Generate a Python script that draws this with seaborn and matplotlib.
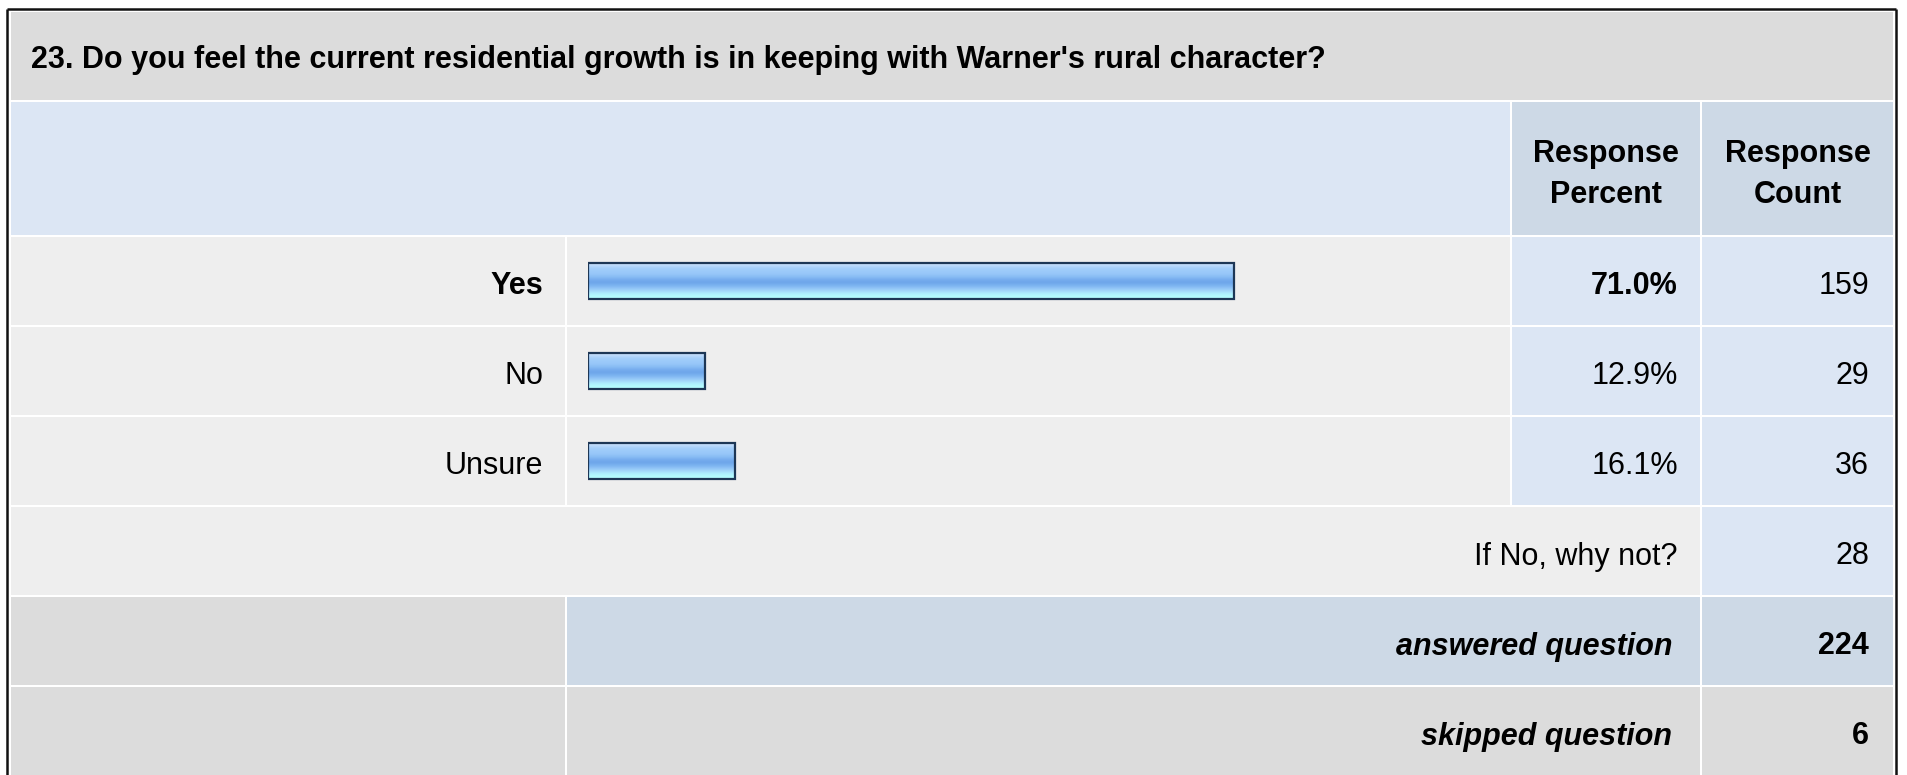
import numpy as np
import pandas as pd
import matplotlib
matplotlib.use("Agg")
import matplotlib.pyplot as plt
from matplotlib.patches import Rectangle
from matplotlib.colors import LinearSegmentedColormap
import seaborn as sns

# ---- survey data ----
question = "23. Do you feel the current residential growth is in keeping with Warner's rural character?"
answers = ["Yes", "No", "Unsure"]
percents = [71.0, 12.9, 16.1]
counts = [159, 29, 36]
other_label = "If No, why not?"
other_count = 28
answered_label = "answered question"
answered_count = 224
skipped_label = "skipped question"
skipped_count = 6
header_percent = "Response\nPercent"
header_count = "Response\nCount"

sns.set_theme(style="white")
plt.rcParams["font.family"] = ["Liberation Sans", "DejaVu Sans"]
plt.rcParams["text.color"] = "black"

W, H = 1907, 775
DPI = 100
FS = 22

fig = plt.figure(figsize=(W / DPI, H / DPI), dpi=DPI)
fig.patch.set_facecolor("white")

# table canvas in pixel coordinates
bg = fig.add_axes([0, 0, 1, 1])
bg.set_xlim(0, W)
bg.set_ylim(H, 0)
bg.axis("off")

GRAY = "#dcdcdc"
LIGHT = "#eeeeee"
BLUE = "#dce6f4"
BLUE2 = "#cdd9e6"

# column edges: label | bar | percent | count
C0, C1 = 11, 565
C2, C3 = 567, 1510
C4, C5 = 1512, 1700
C6, C7 = 1702, 1893

# row edges
title_r = (12, 100)
head_r = (102, 235)
data_r = [(237, 325), (327, 415), (417, 505)]
other_r = (507, 595)
ans_r = (597, 685)
skip_r = (687, 775)


def cell(x0, x1, r, color):
    bg.add_patch(Rectangle((x0, r[0]), x1 - x0, r[1] - r[0],
                           facecolor=color, edgecolor="none", zorder=1))


def mid(r):
    return (r[0] + r[1]) / 2


cell(C0, C7, title_r, GRAY)
cell(C0, C3, head_r, BLUE)
cell(C4, C5, head_r, BLUE2)
cell(C6, C7, head_r, BLUE2)
for r in data_r:
    cell(C0, C1, r, LIGHT)
    cell(C2, C3, r, LIGHT)
    cell(C4, C5, r, BLUE)
    cell(C6, C7, r, BLUE)
cell(C0, C5, other_r, LIGHT)
cell(C6, C7, other_r, BLUE)
cell(C0, C1, ans_r, GRAY)
cell(C2, C5, ans_r, BLUE2)
cell(C6, C7, ans_r, BLUE2)
cell(C0, C1, skip_r, GRAY)
cell(C2, C5, skip_r, GRAY)
cell(C6, C7, skip_r, GRAY)

# outer frame
frame = dict(color="#111111", lw=1.8, zorder=3, solid_capstyle="butt")
bg.plot([7, 7], [9, H], **frame)
bg.plot([7, 1896], [9, 9], **frame)
bg.plot([1896, 1896], [9, H], **frame)

# texts
bg.text(31, mid(title_r) + 12, question, fontsize=FS, fontweight="bold",
        ha="left", va="baseline", zorder=4)
bg.text((C4 + C5) / 2, mid(head_r) + 6, header_percent, fontsize=FS, fontweight="bold",
        ha="center", va="center", linespacing=1.5, zorder=4)
bg.text((C6 + C7) / 2, mid(head_r) + 6, header_count, fontsize=FS, fontweight="bold",
        ha="center", va="center", linespacing=1.5, zorder=4)

top_idx = int(np.argmax(percents))
for i, (lab, p, c, r) in enumerate(zip(answers, percents, counts, data_r)):
    w = "bold" if i == top_idx else "normal"
    base = mid(r) + 13.5
    bg.text(C1 - 22, base, lab, fontsize=FS, fontweight=w, ha="right", va="baseline", zorder=4)
    bg.text(C5 - 22, base, f"{p:.1f}%", fontsize=FS, fontweight=w, ha="right", va="baseline", zorder=4)
    bg.text(C7 - 24, base, f"{c}", fontsize=FS, ha="right", va="baseline", zorder=4)

base = mid(other_r) + 13.5
bg.text(C5 - 22, base, other_label, fontsize=FS, ha="right", va="baseline", zorder=4)
bg.text(C7 - 24, base, f"{other_count}", fontsize=FS, ha="right", va="baseline", zorder=4)

base = mid(ans_r) + 13.5
bg.text(C5 - 28, base, answered_label, fontsize=FS, fontweight="bold", style="italic",
        ha="right", va="baseline", zorder=4)
bg.text(C7 - 24, base, f"{answered_count}", fontsize=FS, fontweight="bold",
        ha="right", va="baseline", zorder=4)

base = mid(skip_r) + 13.5
bg.text(C5 - 28, base, skipped_label, fontsize=FS, fontweight="bold", style="italic",
        ha="right", va="baseline", zorder=4)
bg.text(C7 - 24, base, f"{skipped_count}", fontsize=FS, fontweight="bold",
        ha="right", va="baseline", zorder=4)

# ---- bar column ----
bx0, bx1 = 588, 1498
by0, by1 = 236, 506
bar_ax = fig.add_axes([bx0 / W, 1 - by1 / H, (bx1 - bx0) / W, (by1 - by0) / H])
bar_ax.patch.set_alpha(0)

df = pd.DataFrame({"answer": answers, "percent": percents})
sns.barplot(data=df, x="percent", y="answer", orient="h", ax=bar_ax,
            width=0.4, color="#8cc0f6", edgecolor="#1d3756", linewidth=1.6,
            saturation=1)
bar_ax.set_xlim(0, 100)
bar_ax.set_ylim(2.5, -0.5)
bar_ax.axis("off")

# glossy vertical gradient inside each bar
stripe_colors = ["#d2e6fc", "#b8d8fc", "#a2cefa", "#9ccafa", "#96c6f8", "#88bcf4",
                 "#76acee", "#6ea6ea", "#7ab2f0", "#8ec2f6", "#a2d6fa",
                 "#aeeefe", "#b4fcff", "#b4fcff"]
cmap = LinearSegmentedColormap.from_list("gloss", stripe_colors, N=256)
grad = np.linspace(0, 1, 256).reshape(-1, 1)
for patch in bar_ax.patches:
    x, y = patch.get_x(), patch.get_y()
    w, h = patch.get_width(), patch.get_height()
    im = bar_ax.imshow(grad, cmap=cmap, aspect="auto",
                       extent=(x, x + w, y + h, y), origin="upper",
                       interpolation="bilinear", zorder=patch.get_zorder() - 0.1)
    im.set_clip_path(patch)
    patch.set_facecolor("none")
bar_ax.set_xlim(0, 100)
bar_ax.set_ylim(2.5, -0.5)

fig.savefig("out.png", dpi=DPI, facecolor="white")
